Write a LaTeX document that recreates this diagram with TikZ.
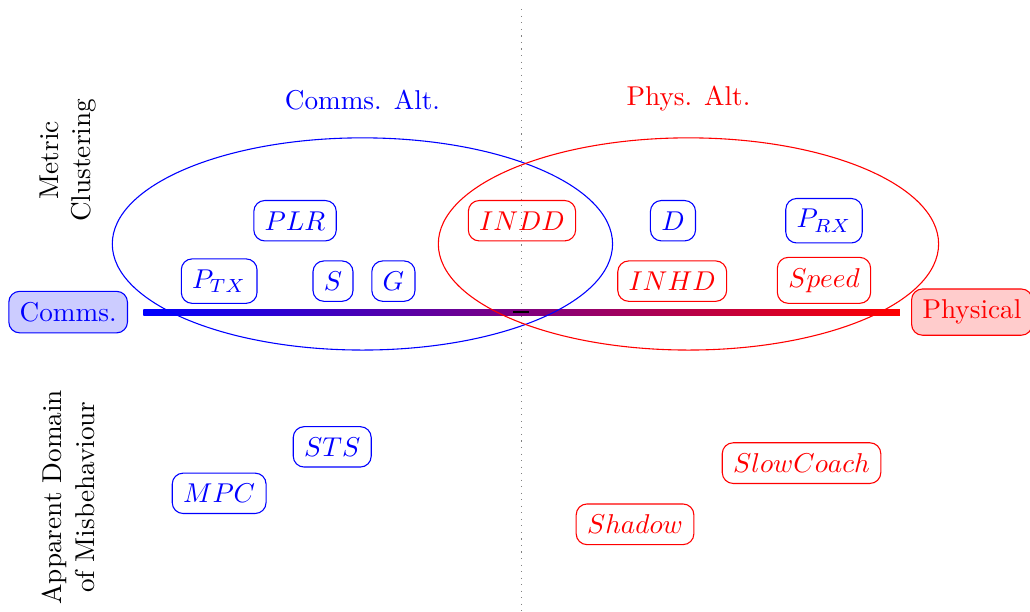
\documentclass[tikz,border=0pt]{standalone}
\usepackage{amsmath,amssymb}
\usepackage{tikz}
\usetikzlibrary{positioning,calc}

\tikzset{
  metric/.style={draw,rounded corners,inner sep=4pt},
  commsm/.style={metric,blue},
  physm/.style={metric,red},
  axislabel/.style={rotate=90,align=center}
}

\begin{document}
\begin{tikzpicture}[x=1.0cm,y=1.0cm]
  \useasboundingbox (-6.73,-3.87) rectangle (6.57,4.03);
  \draw[dotted,gray] (0,3.91) -- (0,-3.9);
  % domain axis
  \node[metric,blue,fill=blue!20] (comms) at (-5.85,0) {Comms.};
  \node[metric,red,fill=red!20] (phys) at (5.82,0) {Physical};
  \coordinate (axl) at (-4.88,0);
  \coordinate (axr) at (4.89,0);
  \shade[left color=blue,right color=red] ($(axl)+(0,-0.04)$) rectangle ($(axr)+(0,0.04)$);
  \draw[line width=0.8pt] (-0.1,0) -- (0.1,0);
  % side labels
  \node[axislabel] (clust) at (-5.85,1.96) {Metric\\Clustering};
  \node[axislabel] (misb) at (-5.85,-2.39) {Apparent Domain\\of Misbehaviour};
  % alteration regions
  \draw[blue] (-2.05,0.88) ellipse (3.23 and 1.37);
  \draw[red] (2.16,0.88) ellipse (3.23 and 1.37);
  \node[blue] (calt) at (-2.05,2.74) {Comms. Alt.};
  \node[red] (palt) at (2.16,2.76) {Phys. Alt.};
  % metrics
  \node[commsm] (plr) at (-2.92,1.18) {$PLR$};
  \node[commsm] (ptx) at (-3.90,0.40) {$P_{TX}$};
  \node[commsm] (s) at (-2.43,0.40) {$S$};
  \node[commsm] (g) at (-1.65,0.40) {$G$};
  \node[physm] (indd) at (0.01,1.18) {$INDD$};
  \node[commsm] (d) at (1.96,1.18) {$D$};
  \node[commsm] (prx) at (3.91,1.18) {$P_{RX}$};
  \node[physm] (inhd) at (1.95,0.40) {$INHD$};
  \node[physm] (speed) at (3.91,0.41) {$Speed$};
  % misbehaviours
  \node[commsm] (sts) at (-2.44,-1.74) {$STS$};
  \node[commsm] (mpc) at (-3.90,-2.34) {$MPC$};
  \node[physm] (slow) at (3.62,-1.95) {$SlowCoach$};
  \node[physm] (shadow) at (1.47,-2.74) {$Shadow$};
\end{tikzpicture}
\end{document}
